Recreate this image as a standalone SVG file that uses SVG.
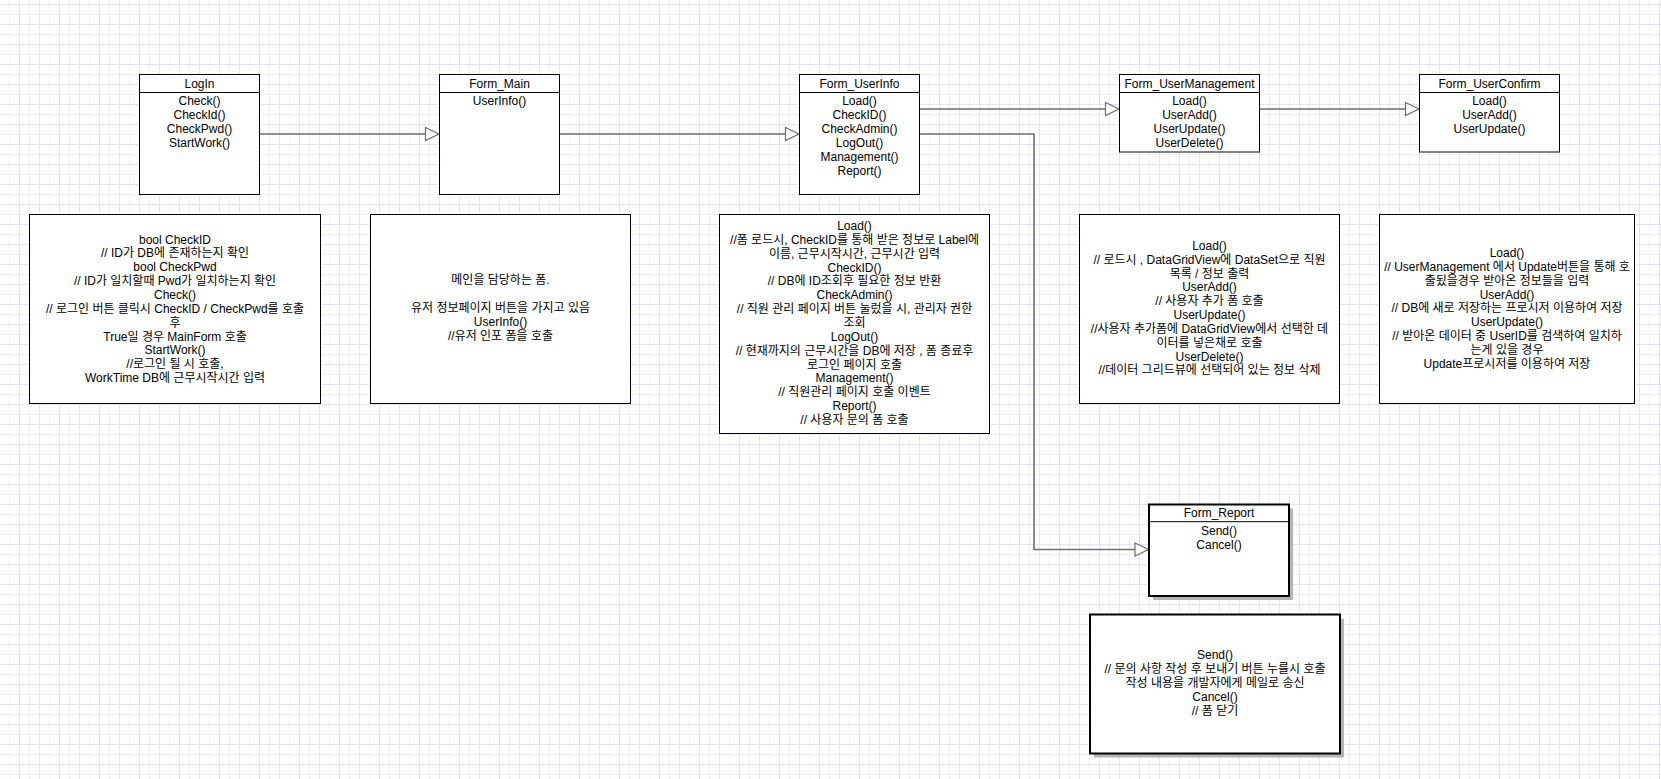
<svg xmlns="http://www.w3.org/2000/svg" width="1661" height="779" viewBox="0 0 1661 779">
<defs>
<pattern id="grid" x="0" y="0" width="20" height="20" patternUnits="userSpaceOnUse">
<rect width="20" height="20" fill="#ffffff"/>
<path d="M9.5,0V20M0,14.5H20" stroke="#efeffc" stroke-width="1"/>
<path d="M19.5,0V20M0,4.5H20" stroke="#e2e2fa" stroke-width="1"/>
</pattern>
<marker id="tri" markerUnits="userSpaceOnUse" markerWidth="16" markerHeight="16" refX="13.5" refY="6.5" orient="auto" overflow="visible">
<path d="M0,0 L13.5,6.5 L0,13 Z" fill="#ffffff" stroke="#6e6e6e" stroke-width="1.2"/>
</marker>
</defs>
<style>
text{font-family:"Liberation Sans","Noto Sans CJK KR",Arial,sans-serif;font-size:12px;fill:#000;text-anchor:middle}
.box{fill:#fff;stroke:#000;stroke-width:1}
.bold{fill:#fff;stroke:#000;stroke-width:2}
.shadow{fill:#b4b4b4;stroke:none}
.hdr{stroke:#000;stroke-width:1}
.conn{fill:none;stroke:#6e6e6e;stroke-width:1.6;marker-end:url(#tri)}
</style>
<rect width="1661" height="779" fill="url(#grid)"/>

<g id="connectors">
<path class="conn" d="M259.5,134 H439"/>
<path class="conn" d="M559.5,134 H799"/>
<path class="conn" d="M919.5,109 H1119"/>
<path class="conn" d="M1259.5,109 H1419"/>
<path class="conn" d="M919.5,134 H1034 V549.5 H1148.5"/>
</g>

<g id="LogIn">
<rect class="box" x="139.5" y="74.5" width="120" height="120"/>
<line class="hdr" x1="139.5" y1="92.5" x2="259.5" y2="92.5"/>
<text x="199.5" y="87.7">LogIn</text>
<text x="199.5" y="105.3">Check()<tspan x="199.5" dy="13.85">CheckId()</tspan><tspan x="199.5" dy="13.85">CheckPwd()</tspan><tspan x="199.5" dy="13.85">StartWork()</tspan></text>
</g>

<g id="Form_Main">
<rect class="box" x="439.5" y="74.5" width="120" height="120"/>
<line class="hdr" x1="439.5" y1="92.5" x2="559.5" y2="92.5"/>
<text x="499.5" y="87.7">Form_Main</text>
<text x="499.5" y="105.3">UserInfo()</text>
</g>

<g id="Form_UserInfo">
<rect class="box" x="799.5" y="74.5" width="120" height="120"/>
<line class="hdr" x1="799.5" y1="92.5" x2="919.5" y2="92.5"/>
<text x="859.5" y="87.7">Form_UserInfo</text>
<text x="859.5" y="105.3">Load()<tspan x="859.5" dy="13.85">CheckID()</tspan><tspan x="859.5" dy="13.85">CheckAdmin()</tspan><tspan x="859.5" dy="13.85">LogOut()</tspan><tspan x="859.5" dy="13.85">Management()</tspan><tspan x="859.5" dy="13.85">Report()</tspan></text>
</g>

<g id="Form_UserManagement">
<rect class="box" x="1119.5" y="74.5" width="140" height="77.5"/>
<line class="hdr" x1="1119.5" y1="92.5" x2="1259.5" y2="92.5"/>
<text x="1189.5" y="87.7">Form_UserManagement</text>
<text x="1189.5" y="105.3">Load()<tspan x="1189.5" dy="13.85">UserAdd()</tspan><tspan x="1189.5" dy="13.85">UserUpdate()</tspan><tspan x="1189.5" dy="13.85">UserDelete()</tspan></text>
</g>

<g id="Form_UserConfirm">
<rect class="box" x="1419.5" y="74.5" width="140" height="77.5"/>
<line class="hdr" x1="1419.5" y1="92.5" x2="1559.5" y2="92.5"/>
<text x="1489.5" y="87.7">Form_UserConfirm</text>
<text x="1489.5" y="105.3">Load()<tspan x="1489.5" dy="13.85">UserAdd()</tspan><tspan x="1489.5" dy="13.85">UserUpdate()</tspan></text>
</g>

<g id="Form_Report">
<rect class="shadow" x="1153" y="508.5" width="140" height="91.5"/>
<rect class="bold" x="1149" y="504.5" width="140" height="91.5"/>
<line class="hdr" x1="1149" y1="521.7" x2="1289" y2="521.7" stroke-width="1.5"/>
<text x="1219" y="517">Form_Report</text>
<text x="1219" y="535.3">Send()<tspan x="1219" dy="13.85">Cancel()</tspan></text>
</g>

<g id="note_LogIn">
<rect class="box" x="29.5" y="214.5" width="291" height="189"/>
<text x="175" y="243.6">bool CheckID<tspan x="175" dy="13.85">// ID가 DB에 존재하는지 확인</tspan><tspan x="175" dy="13.85">bool CheckPwd</tspan><tspan x="175" dy="13.85">// ID가 일치할때 Pwd가 일치하는지 확인</tspan><tspan x="175" dy="13.85">Check()</tspan><tspan x="175" dy="13.85">// 로그인 버튼 클릭시 CheckID / CheckPwd를 호출</tspan><tspan x="175" dy="13.85">후</tspan><tspan x="175" dy="13.85">True일 경우 MainForm 호출</tspan><tspan x="175" dy="13.85">StartWork()</tspan><tspan x="175" dy="13.85">//로그인 될 시 호출,</tspan><tspan x="175" dy="13.85">WorkTime DB에 근무시작시간 입력</tspan></text>
</g>

<g id="note_Form_Main">
<rect class="box" x="370.5" y="214.5" width="260" height="189"/>
<text x="500.5" y="284.4">메인을 담당하는 폼.<tspan x="500.5" dy="27.7">유저 정보페이지 버튼을 가지고 있음</tspan><tspan x="500.5" dy="13.85">UserInfo()</tspan><tspan x="500.5" dy="13.85">//유저 인포 폼을 호출</tspan></text>
</g>

<g id="note_Form_UserInfo">
<rect class="box" x="719.5" y="214.5" width="270" height="219"/>
<text x="854.5" y="230">Load()<tspan x="854.5" dy="13.85">//폼 로드시, CheckID를 통해 받은 정보로 Label에</tspan><tspan x="854.5" dy="13.85">이름, 근무시작시간, 근무시간 입력</tspan><tspan x="854.5" dy="13.85">CheckID()</tspan><tspan x="854.5" dy="13.85">// DB에 ID조회후 필요한 정보 반환</tspan><tspan x="854.5" dy="13.85">CheckAdmin()</tspan><tspan x="854.5" dy="13.85">// 직원 관리 페이지 버튼 눌렀을 시, 관리자 권한</tspan><tspan x="854.5" dy="13.85">조회</tspan><tspan x="854.5" dy="13.85">LogOut()</tspan><tspan x="854.5" dy="13.85">// 현재까지의 근무시간을 DB에 저장 , 폼 종료후</tspan><tspan x="854.5" dy="13.85">로그인 페이지 호출</tspan><tspan x="854.5" dy="13.85">Management()</tspan><tspan x="854.5" dy="13.85">// 직원관리 페이지 호출 이벤트</tspan><tspan x="854.5" dy="13.85">Report()</tspan><tspan x="854.5" dy="13.85">// 사용자 문의 폼 호출</tspan></text>
</g>

<g id="note_Form_UserManagement">
<rect class="box" x="1079.5" y="214.5" width="260" height="189"/>
<text x="1209.5" y="249.8">Load()<tspan x="1209.5" dy="13.85">// 로드시 , DataGridView에 DataSet으로 직원</tspan><tspan x="1209.5" dy="13.85">목록 / 정보 출력</tspan><tspan x="1209.5" dy="13.85">UserAdd()</tspan><tspan x="1209.5" dy="13.85">// 사용자 추가 폼 호출</tspan><tspan x="1209.5" dy="13.85">UserUpdate()</tspan><tspan x="1209.5" dy="13.85">//사용자 추가폼에 DataGridView에서 선택한 데</tspan><tspan x="1209.5" dy="13.85">이터를 넣은채로 호출</tspan><tspan x="1209.5" dy="13.85">UserDelete()</tspan><tspan x="1209.5" dy="13.85">//데이터 그리드뷰에 선택되어 있는 정보 삭제</tspan></text>
</g>

<g id="note_Form_UserConfirm">
<rect class="box" x="1379.5" y="214.5" width="255" height="189"/>
<text x="1507" y="257">Load()<tspan x="1507" dy="13.85">// UserManagement 에서 Update버튼을 통해 호</tspan><tspan x="1507" dy="13.85">출됬을경우 받아온 정보들을 입력</tspan><tspan x="1507" dy="13.85">UserAdd()</tspan><tspan x="1507" dy="13.85">// DB에 새로 저장하는 프로시저 이용하여 저장</tspan><tspan x="1507" dy="13.85">UserUpdate()</tspan><tspan x="1507" dy="13.85">// 받아온 데이터 중 UserID를 검색하여 일치하</tspan><tspan x="1507" dy="13.85">는게 있을 경우</tspan><tspan x="1507" dy="13.85">Update프로시저를 이용하여 저장</tspan></text>
</g>

<g id="note_Form_Report">
<rect class="shadow" x="1094" y="618.5" width="250" height="139"/>
<rect class="bold" x="1090" y="614.5" width="250" height="139"/>
<text x="1215" y="659.3">Send()<tspan x="1215" dy="13.85">// 문의 사항 작성 후 보내기 버튼 누를시 호출</tspan><tspan x="1215" dy="13.85">작성 내용을 개발자에게 메일로 송신</tspan><tspan x="1215" dy="13.85">Cancel()</tspan><tspan x="1215" dy="13.85">// 폼 닫기</tspan></text>
</g>
</svg>
